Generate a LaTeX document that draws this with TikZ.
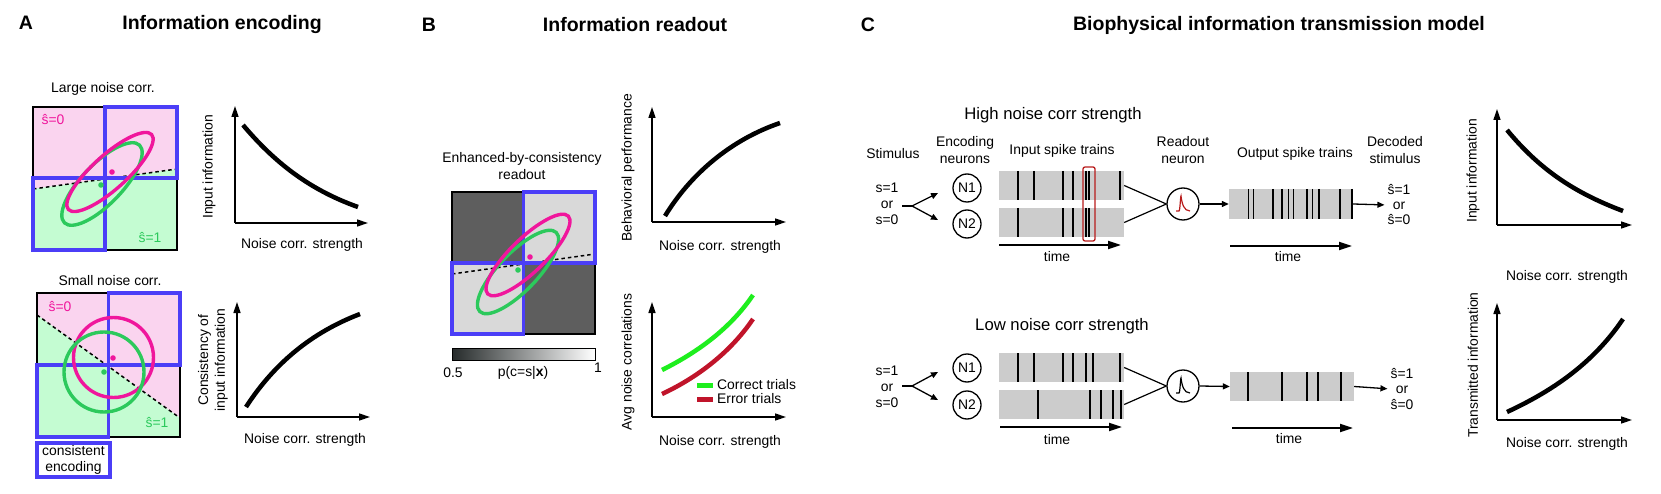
\documentclass[tikz,border=0pt]{standalone}
\usepackage{fontspec}
\setmainfont{Liberation Sans}
\usetikzlibrary{arrows.meta}
\definecolor{mag}{HTML}{F0169C}
\definecolor{egreen}{HTML}{2CC95C}
\definecolor{pfill}{HTML}{FAD4EF}
\definecolor{gfill}{HTML}{C4FCD2}
\definecolor{bblue}{HTML}{4B3EF7}
\definecolor{dgray}{HTML}{5E5E5E}
\definecolor{lgray}{HTML}{D9D9D9}
\definecolor{rgray}{HTML}{CCCCCC}
\definecolor{lgreen}{HTML}{1EEE1E}
\definecolor{lred}{HTML}{C0142A}
\definecolor{pred}{HTML}{B81C1C}
\definecolor{cbdark}{HTML}{262B2B}
\begin{document}
\begin{tikzpicture}[x=1pt,y=-1pt,
  txt/.style={font=\fontsize{13.9}{16.8}\selectfont, inner sep=0pt, align=center},
  sub/.style={font=\fontsize{16.7}{19}\selectfont, inner sep=0pt},
  ttl/.style={font=\bfseries\fontsize{19.5}{22}\selectfont, inner sep=0pt},
  axisline/.style={line width=1.5pt, -{Triangle[length=11pt,width=7pt]}},
  curveline/.style={line width=4.5pt},
  outline/.style={draw=black, line width=1.4pt},
  bluebox/.style={draw=bblue, line width=3.6pt},
  boundary/.style={line width=1.5pt, dash pattern=on 3.5pt off 3pt},
  ell/.style={line width=3.4pt},
  dotmark/.style={radius=2.8},
  raster/.style={fill=rgray, draw=none, inner sep=0pt},
  spike/.style={line width=1.6pt},
  neuron/.style={circle, draw, line width=1.3pt, minimum size=28pt, inner sep=0pt, font=\fontsize{13.9}{16}\selectfont},
  readout/.style={circle, draw, line width=1.3pt, minimum size=32pt, inner sep=0pt},
  smallarrow/.style={line width=1.3pt, -{Triangle[length=7pt,width=6pt]}},
  timearrow/.style={line width=2pt, -{Triangle[length=13pt,width=8pt]}},
  psp/.style={line width=1.2pt},
  legline/.style={line width=5pt}
]
\useasboundingbox (0,0) rectangle (1661,494);

% ================= Panel A =================
\node[ttl] (labA) at (26,23) {A};
\node[ttl] (titA) at (222,25) {Information encoding};

% --- top: large noise corr
\node[txt] (largeA) at (103,89) {Large noise corr.};
\fill[pfill] (33,107) -- (177,107) -- (177,169) -- (33,189) -- cycle;
\fill[gfill] (33,189) -- (177,169) -- (177,250) -- (33,250) -- cycle;
\draw[outline] (33,107) rectangle (177,250);
\draw[boundary] (33,189) -- (177,169);
\draw[bluebox] (105,107) rectangle (177,178);
\draw[bluebox] (33,178) rectangle (105,250);
\draw[ell, egreen, rotate around={46:(102,184)}] (102,184) ellipse [x radius=54, y radius=20];
\draw[ell, mag, rotate around={42:(110,172)}] (110,172) ellipse [x radius=56, y radius=17];
\fill[mag] (112,172) circle [dotmark];
\fill[egreen] (101,185) circle [dotmark];
\node[txt, text=mag] (s0A) at (53,120) {ŝ=0};
\node[txt, text=egreen] (s1A) at (150,238) {ŝ=1};

% plot top A
\coordinate (oA1) at (235,223);
\draw[axisline] (oA1) -- (235,106);
\draw[axisline] (oA1) -- (368,223);
\draw[curveline] (243,125) .. controls (275,163) and (310,190) .. (358,207);
\node[txt, rotate=90] (ylA1) at (209,167) {Input information};
\node[txt] (xlA1) at (302,245) {Noise corr. strength};

% --- bottom: small noise corr
\node[txt] (smallA) at (110,281) {Small noise corr.};
\fill[pfill] (37,293) -- (180,293) -- (180,418) -- (37,315) -- cycle;
\fill[gfill] (37,315) -- (180,418) -- (180,437) -- (37,437) -- cycle;
\draw[outline] (37,293) rectangle (180,437);
\draw[boundary] (37,315) -- (180,418);
\draw[bluebox] (108.5,293) rectangle (180,365);
\draw[bluebox] (37,365) rectangle (108.5,437);
\draw[ell, mag] (113.5,357.5) circle [radius=40];
\draw[ell, egreen] (104,372) circle [radius=40];
\fill[mag] (113,358) circle [dotmark];
\fill[egreen] (104,372) circle [dotmark];
\node[txt, text=mag] (s0B) at (60,307) {ŝ=0};
\node[txt, text=egreen] (s1B) at (157,423) {ŝ=1};
\node[txt, draw=bblue, line width=3.6pt, minimum width=73pt, minimum height=34pt, font=\fontsize{13.9}{15.5}\selectfont] (consist) at (73.5,460) {consistent\\encoding};

% plot bottom A
\coordinate (oA2) at (237,417);
\draw[axisline] (oA2) -- (237,302);
\draw[axisline] (oA2) -- (370,417);
\draw[curveline] (246,407) .. controls (270,370) and (305,335) .. (360,314);
\node[txt, rotate=90] (ylA2) at (213,360) {Consistency of\\input information};
\node[txt] (xlA2) at (305,440) {Noise corr. strength};

% ================= Panel B =================
\node[ttl] (labB) at (429,25) {B};
\node[ttl] (titB) at (635,25) {Information readout};
\node[txt] (enh) at (522,166) {Enhanced-by-consistency\\readout};
\fill[dgray] (452,192) rectangle (523.5,263);
\fill[dgray] (523.5,263) rectangle (595,334);
\fill[lgray] (523.5,192) rectangle (595,263);
\fill[lgray] (452,263) rectangle (523.5,334);
\draw[outline] (452,192) rectangle (595,334);
\draw[boundary] (452,274) -- (595,254);
\draw[bluebox] (523.5,192) rectangle (595,263);
\draw[bluebox] (452,263) rectangle (523.5,334);
\draw[ell, egreen, rotate around={46:(518,272)}] (518,272) ellipse [x radius=55, y radius=19];
\draw[ell, mag, rotate around={44:(528,255)}] (528,255) ellipse [x radius=56, y radius=17];
\fill[mag] (530,257) circle [dotmark];
\fill[egreen] (518,270) circle [dotmark];
% colorbar
\shade[left color=cbdark, right color=white] (452,348) rectangle (595,360);
\draw[line width=0.8pt] (452,348) rectangle (595,360);
\node[txt] (cb05) at (453,373) {0.5};
\node[txt] (cbp) at (523,373) {p(c=s|\textbf{x})};
\node[txt] (cb1) at (598,368) {1};

% plot top B
\coordinate (oB1) at (652,222);
\draw[axisline] (oB1) -- (652,107);
\draw[axisline] (oB1) -- (786,222);
\draw[curveline] (665,216) .. controls (690,175) and (730,140) .. (780,123);
\node[txt, rotate=90] (ylB1) at (628,168) {Behavioral performance};
\node[txt] (xlB1) at (720,247) {Noise corr. strength};

% plot bottom B
\coordinate (oB2) at (652,417);
\draw[axisline] (oB2) -- (652,302);
\draw[axisline] (oB2) -- (786,417);
\draw[curveline, lgreen] (662,370) .. controls (692,355) and (728,332) .. (753,295);
\draw[curveline, lred] (662,394) .. controls (692,380) and (728,356) .. (753,319);
\draw[legline, lgreen] (697,385) -- (713,385);
\draw[legline, lred] (697,399) -- (713,399);
\node[txt, anchor=west] (legC) at (717,385) {Correct trials};
\node[txt, anchor=west] (legE) at (717,399) {Error trials};
\node[txt, rotate=90] (ylB2) at (628,362) {Avg noise correlations};
\node[txt] (xlB2) at (720,442) {Noise corr. strength};

% ================= Panel C =================
\node[ttl] (labC) at (868,25) {C};
\node[ttl] (titC) at (1279,25) {Biophysical information transmission model};

% ---- high noise corr
\node[sub] (high) at (1053,115) {High noise corr strength};
\node[txt] (stimlab) at (893,154) {Stimulus};
\node[txt] (enclab) at (965,150) {Encoding\\neurons};
\node[txt] (inlab) at (1062,151) {Input spike trains};
\node[txt] (readlab) at (1183,150) {Readout\\neuron};
\node[txt] (outlab) at (1295,154) {Output spike trains};
\node[txt] (declab) at (1395,150) {Decoded\\stimulus};

\node[txt, font=\fontsize{13.9}{16}\selectfont] (stimh) at (887,204) {s=1\\or\\s=0};
\coordinate (fh0) at (902,206);
\coordinate (fh) at (912,206);
\coordinate (ah1) at (938,193);
\coordinate (ah2) at (938,220);
\draw[line width=1.3pt] (fh0) -- (fh);
\draw[smallarrow] (fh) -- (ah1);
\draw[smallarrow] (fh) -- (ah2);
\node[neuron] (n1h) at (967,188) {N1};
\node[neuron] (n2h) at (967,224) {N2};

\node[raster, minimum width=125pt, minimum height=29pt] (inh1) at (1061.5,185.5) {};
\node[raster, minimum width=125pt, minimum height=29pt] (inh2) at (1061.5,222.5) {};
\foreach \s in {1018,1034,1063,1073,1086,1089,1120} \draw[spike] (\s,171) -- (\s,200);
\foreach \s in {1018,1063,1073,1086,1089} \draw[spike] (\s,208) -- (\s,237);
\node[draw=pred, line width=1.3pt, rounded corners=2pt, minimum width=12pt, minimum height=74pt, inner sep=0pt] (sync) at (1089,204) {};

\node[readout] (readh) at (1183,204) {};
\draw[line width=1.2pt] (inh1.east) -- (readh.west);
\draw[line width=1.2pt] (inh2.east) -- (readh.west);
\draw[psp, pred] (1176,211) -- (1179,211) .. controls (1180,211) and (1180.5,196) .. (1181,196) .. controls (1182,204) and (1184,211) .. (1190,211);

\node[raster, minimum width=124pt, minimum height=30pt] (outh) at (1291,204) {};
\foreach \s in {1248.3,1253.3,1272.7,1281.7,1288.3,1293.3,1306.7,1312.3,1319,1340,1351.7} \draw[spike] (\s,189) -- (\s,219);
\draw[smallarrow] (readh.east) -- (outh.west);
\node[txt, font=\fontsize{13.9}{15}\selectfont] (dech) at (1399,205) {ŝ=1\\or\\ŝ=0};
\draw[smallarrow, shorten >=3pt] (outh.east) -- (dech.west);

\coordinate (th0) at (999,245);
\coordinate (th1) at (1121,245);
\draw[timearrow] (th0) -- (th1);
\node[txt] (timeh1) at (1057,257) {time};
\coordinate (to0) at (1230,246);
\coordinate (to1) at (1352,246);
\draw[timearrow] (to0) -- (to1);
\node[txt] (timeh2) at (1288,257) {time};

% ---- low noise corr
\node[sub] (low) at (1062,326) {Low noise corr strength};
\node[txt, font=\fontsize{13.9}{16}\selectfont] (stiml) at (887,387) {s=1\\or\\s=0};
\coordinate (fl0) at (902,386);
\coordinate (fl) at (912,386);
\coordinate (al1) at (938,372);
\coordinate (al2) at (938,400);
\draw[line width=1.3pt] (fl0) -- (fl);
\draw[smallarrow] (fl) -- (al1);
\draw[smallarrow] (fl) -- (al2);
\node[neuron] (n1l) at (967,368) {N1};
\node[neuron] (n2l) at (967,405) {N2};

\node[raster, minimum width=125pt, minimum height=29pt] (inl1) at (1061.5,367.5) {};
\node[raster, minimum width=125pt, minimum height=29pt] (inl2) at (1061.5,404.5) {};
\foreach \s in {1018,1034,1063,1073,1086,1093,1120} \draw[spike] (\s,353) -- (\s,382);
\foreach \s in {1038,1090,1101,1113,1121} \draw[spike] (\s,390) -- (\s,419);

\node[readout] (readl) at (1183,386) {};
\draw[line width=1.2pt] (inl1.east) -- (readl.west);
\draw[line width=1.2pt] (inl2.east) -- (readl.west);
\draw[psp] (1176,393) -- (1179,393) .. controls (1180,393) and (1180.5,378) .. (1181,378) .. controls (1182,386) and (1184,393) .. (1190,393);

\node[raster, minimum width=124pt, minimum height=29pt] (outl) at (1292,386.5) {};
\foreach \s in {1248,1282,1307,1318,1341} \draw[spike] (\s,372) -- (\s,401);
\draw[smallarrow] (readl.east) -- (outl.west);
\node[txt, font=\fontsize{13.9}{15.5}\selectfont] (decl) at (1402,389) {ŝ=1\\or\\ŝ=0};
\draw[smallarrow, shorten >=3pt] (outl.east) -- (decl.west);

\coordinate (tl0) at (1000,427);
\coordinate (tl1) at (1122,427);
\draw[timearrow] (tl0) -- (tl1);
\node[txt] (timel1) at (1057,440) {time};
\coordinate (tlo0) at (1232,428);
\coordinate (tlo1) at (1353,428);
\draw[timearrow] (tlo0) -- (tlo1);
\node[txt] (timel2) at (1289,439) {time};

% plots C
\coordinate (oC1) at (1497,225);
\draw[axisline] (oC1) -- (1497,109);
\draw[axisline] (oC1) -- (1632,225);
\draw[curveline] (1507,130) .. controls (1540,170) and (1575,193) .. (1623,211);
\node[txt, rotate=90] (ylC1) at (1473,171) {Input information};
\node[txt] (xlC1) at (1567,277) {Noise corr. strength};

\coordinate (oC2) at (1497,420);
\draw[axisline] (oC2) -- (1497,303);
\draw[axisline] (oC2) -- (1632,420);
\draw[curveline] (1507,412) .. controls (1550,392) and (1592,365) .. (1623,319);
\node[txt, rotate=90] (ylC2) at (1473,365) {Transmitted information};
\node[txt] (xlC2) at (1567,444) {Noise corr. strength};
\end{tikzpicture}
\end{document}
